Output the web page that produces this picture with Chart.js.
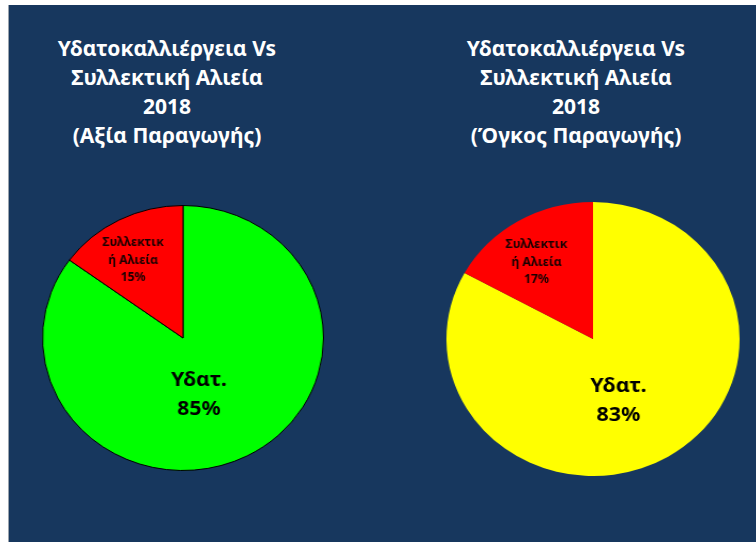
<!DOCTYPE html>
<html lang="el">
<head>
<meta charset="UTF-8">
<title>Υδατοκαλλιέργεια Vs Συλλεκτική Αλιεία 2018</title>
<script src="https://cdn.jsdelivr.net/npm/chart.js"></script>
<style>
    * { margin: 0; padding: 0; box-sizing: border-box; }
    body { width: 756px; height: 542px; background: #fff; overflow: hidden; position: relative; }
    .panel {
        position: absolute; left: 8px; top: 5px; right: 0; bottom: 0;
        background: #17375e; border-left: 1px solid #9aa3ad;
    }
    .title {
        position: absolute; width: 320px; text-align: center;
        color: #fff; font-family: "Noto Sans", sans-serif; font-weight: bold;
        font-size: 21px; line-height: 29px;
    }
    .pie { position: absolute; }
    .pie canvas { display: block; }
</style>
</head>
<body>
<div class="panel"></div>

<div class="title" id="titleLeft" style="left:7px; top:34px;"></div>
<div class="title" id="titleRight" style="left:416px; top:34px;"></div>

<div class="pie" style="left:43px; top:205px; width:280px; height:266px; transform:scaleX(1.06);">
    <canvas id="valueChart" width="280" height="266"></canvas>
</div>
<div class="pie" style="left:448px; top:202px; width:290px; height:274px; transform:scaleX(1.07);">
    <canvas id="volumeChart" width="290" height="274"></canvas>
</div>

<script>
    // data
    const categories = ['Υδατ.', 'Συλλεκτική Αλιεία'];
    const labelLines = [['Υδατ.'], ['Συλλεκτικ', 'ή Αλιεία']];
    const valueShares = [85, 15];   // Αξία Παραγωγής
    const volumeShares = [83, 17];  // Όγκος Παραγωγής
    const titleLeft = ['Υδατοκαλλιέργεια Vs', 'Συλλεκτική Αλιεία', '2018', '(Αξία Παραγωγής)'];
    const titleRight = ['Υδατοκαλλιέργεια Vs', 'Συλλεκτική Αλιεία', '2018', '(Όγκος Παραγωγής)'];

    document.getElementById('titleLeft').innerHTML = titleLeft.join('<br>');
    document.getElementById('titleRight').innerHTML = titleRight.join('<br>');

    // draws the category name + percentage inside each slice
    const sliceLabels = {
        id: 'sliceLabels',
        afterDatasetsDraw(chart, args, opts) {
            const ctx = chart.ctx;
            const meta = chart.getDatasetMeta(0);
            const data = chart.data.datasets[0].data;
            const total = data.reduce((a, b) => a + b, 0);
            meta.data.forEach((arc, i) => {
                const p = arc.getProps(['x', 'y', 'startAngle', 'endAngle', 'outerRadius'], true);
                const mid = (p.startAngle + p.endAngle) / 2 + opts.angleShift[i];
                const r = p.outerRadius * opts.radius[i];
                const cx = p.x + Math.cos(mid) * r;
                const cy = p.y + Math.sin(mid) * r;
                const lines = labelLines[i].concat([Math.round(data[i] / total * 100) + '%']);
                const size = opts.size[i];
                const lh = opts.lineHeight[i];
                ctx.save();
                ctx.fillStyle = opts.color[i];
                ctx.font = 'bold ' + size + 'px "Noto Sans", sans-serif';
                ctx.textAlign = 'center';
                ctx.textBaseline = 'middle';
                lines.forEach((t, k) => {
                    ctx.fillText(t, cx, cy + (k - (lines.length - 1) / 2) * lh);
                });
                ctx.restore();
            });
        }
    };

    function makePie(id, values, colors, border, place) {
        new Chart(document.getElementById(id), {
            type: 'pie',
            data: {
                labels: categories,
                datasets: [{
                    data: values,
                    backgroundColor: colors,
                    borderColor: border ? '#000' : colors,
                    borderWidth: border ? 1 : 0
                }]
            },
            options: {
                responsive: false,
                animation: false,
                layout: { padding: 0 },
                plugins: {
                    legend: { display: false },
                    tooltip: { enabled: false },
                    sliceLabels: Object.assign({
                        size: [20, 11.5],
                        lineHeight: [29, 17.5],
                        color: ['#000', '#1a0000']
                    }, place)
                }
            },
            plugins: [sliceLabels]
        });
    }

    makePie('valueChart', valueShares, ['#00ff00', '#ff0000'], true,
        { radius: [0.447, 0.686], angleShift: [0.215, -0.073] });
    makePie('volumeChart', volumeShares, ['#ffff00', '#ff0000'], false,
        { radius: [0.481, 0.679], angleShift: [0.164, -0.07] });
</script>
</body>
</html>
